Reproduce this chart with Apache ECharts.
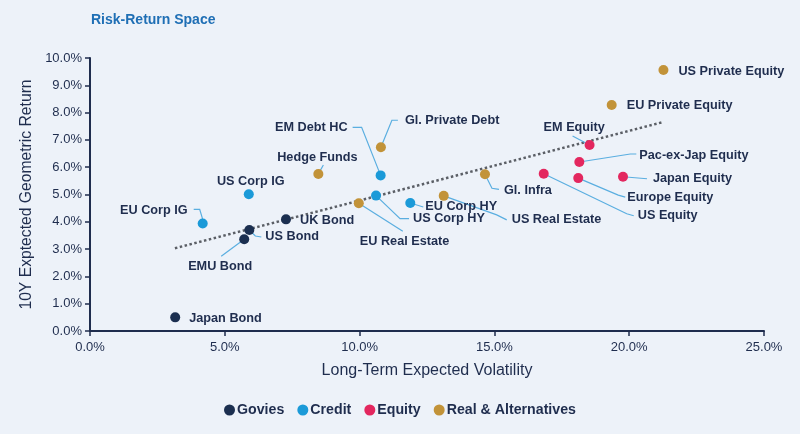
<!DOCTYPE html>
<html><head><meta charset="utf-8">
<script src="https://cdn.jsdelivr.net/npm/echarts@6/dist/echarts.min.js"></script>
<style>html,body{margin:0;padding:0;background:#edf2f9}#c{width:800px;height:434px}</style>
</head><body><div id="c"></div>
<script>
// ---- data ----
var goviesNames = ['Japan Bond','EMU Bond','US Bond','UK Bond'];
var goviesVol   = [3.16, 5.72, 5.91, 7.27];
var goviesRet   = [0.50, 3.36, 3.70, 4.09];

var creditNames = ['EU Corp IG','US Corp IG','EM Debt HC','US Corp HY','EU Corp HY'];
var creditVol   = [4.18, 5.89, 10.78, 10.61, 11.88];
var creditRet   = [3.94, 5.01, 5.70, 4.96, 4.69];

var equityNames = ['EM Equity','Pac-ex-Jap Equity','Europe Equity','US Equity','Japan Equity'];
var equityVol   = [18.53, 18.15, 18.11, 16.83, 19.77];
var equityRet   = [6.81, 6.19, 5.60, 5.76, 5.65];

var realNames = ['Gl. Private Debt','Hedge Funds','EU Real Estate','US Real Estate','Gl. Infra','EU Private Equity','US Private Equity'];
var realVol   = [10.79, 8.47, 9.97, 13.12, 14.65, 19.35, 21.27];
var realRet   = [6.73, 5.75, 4.68, 4.95, 5.74, 8.28, 9.56];

var trendVol = [3.15, 21.2];
var trendRet = [3.03, 7.64];

var seriesNames = ['Govies','Credit','Equity','Real & Alternatives'];
var xTicks = [0, 5, 10, 15, 20, 25];
var yTicks = [0,1,2,3,4,5,6,7,8,9,10];

// ---- label layout (pixel offsets from point centre: dx, dy, align) ----
var labelOffsets = {
  'Japan Bond':[14,1,'left'],
  'EMU Bond':[-24,27,'center'],
  'US Bond':[16,7,'left'],
  'UK Bond':[14,1,'left'],
  'EU Corp IG':[-15,-13,'right'],
  'US Corp IG':[2,-13,'center'],
  'EM Debt HC':[-33,-48,'right'],
  'US Corp HY':[37,23,'left'],
  'EU Corp HY':[15,4,'left'],
  'EM Equity':[-46,-18,'left'],
  'Pac-ex-Jap Equity':[60,-7,'left'],
  'Europe Equity':[49,19,'left'],
  'US Equity':[94,42,'left'],
  'Japan Equity':[30,2,'left'],
  'Gl. Private Debt':[24,-27,'left'],
  'Hedge Funds':[-1,-17,'center'],
  'EU Real Estate':[1,38,'left'],
  'US Real Estate':[68,24,'left'],
  'Gl. Infra':[19,16,'left'],
  'EU Private Equity':[15,1,'left'],
  'US Private Equity':[15,1,'left']
};
// leader line waypoints (pixel offsets from point centre)
var leaderPaths = {
  'EMU Bond':[[-23,17]],
  'US Bond':[[3,3],[6,6],[12,7]],
  'EU Corp IG':[[0,-4],[-3,-14],[-9,-14]],
  'Hedge Funds':[[5,-9]],
  'EM Debt HC':[[-19,-48],[-28,-48]],
  'Gl. Private Debt':[[11,-27],[17,-27]],
  'US Corp HY':[[24,23],[33,23]],
  'EU Corp HY':[[13,4]],
  'EU Real Estate':[[44,28]],
  'US Real Estate':[[53,19],[63,24]],
  'Gl. Infra':[[7,14],[14,15]],
  'EM Equity':[[-17,-9]],
  'Pac-ex-Jap Equity':[[51,-8],[57,-8]],
  'Japan Equity':[[24,2]],
  'Europe Equity':[[40,17],[47,19]],
  'US Equity':[[83,40],[90,42]]
};

var colors = ['#1b2f50','#1b9ad8','#e3275f','#c29339'];
var navy = '#1f2d4e';
var font = 'Liberation Sans, Arial, sans-serif';

function scatter(name, names, xs, ys, color) {
  return {
    name: name, type: 'scatter', symbolSize: 10,
    itemStyle: { color: color, opacity: 1 },
    data: names.map(function (n, i) { return { name: n, value: [xs[i], ys[i]] }; }),
    label: { show: true, formatter: '{b}', color: navy, fontWeight: 'bold', fontSize: 12.7, fontFamily: font },
    labelLayout: function (p) {
      var o = labelOffsets[p.text] || [12, 0, 'left'];
      var cx = p.rect.x + p.rect.width / 2, cy = p.rect.y + p.rect.height / 2;
      return { x: cx + o[0], y: cy + o[1], align: o[2], verticalAlign: 'middle', hideOverlap: false };
    },
    emphasis: { disabled: true },
    z: 3
  };
}

// leader lines series data (from the value arrays)
var allNames = goviesNames.concat(creditNames, equityNames, realNames);
var allVol = goviesVol.concat(creditVol, equityVol, realVol);
var allRet = goviesRet.concat(creditRet, equityRet, realRet);
var leaderData = [];
allNames.forEach(function (n, i) { if (leaderPaths[n]) leaderData.push({ name: n, value: [allVol[i], allRet[i]] }); });

var chart = echarts.init(document.getElementById('c'), null, { renderer: 'canvas' });
chart.setOption({
  backgroundColor: '#edf2f9',
  animation: false,
  title: { text: 'Risk-Return Space', left: 86, top: 8,
           textStyle: { color: '#1f6fb5', fontSize: 14, fontWeight: 'bold', fontFamily: font } },
  grid: { left: 90, right: 36, top: 58, bottom: 103 },
  xAxis: {
    type: 'value', min: xTicks[0], max: xTicks[xTicks.length - 1], interval: 5,
    name: 'Long-Term Expected Volatility', nameLocation: 'middle', nameGap: 32,
    nameTextStyle: { color: navy, fontSize: 16, fontFamily: font },
    axisLine: { lineStyle: { color: navy, width: 2 } },
    axisTick: { show: true, length: 5, lineStyle: { color: navy, width: 1.5 } },
    axisLabel: { color: navy, fontSize: 13, margin: 10, formatter: function (v) { return v.toFixed(1) + '%'; }, fontFamily: font },
    splitLine: { show: false }
  },
  yAxis: {
    type: 'value', min: yTicks[0], max: yTicks[yTicks.length - 1], interval: 1,
    name: '10Y Exptected Geometric Return', nameLocation: 'middle', nameGap: 45,
    nameTextStyle: { color: navy, fontSize: 15.7, fontFamily: font },
    axisLine: { show: true, lineStyle: { color: navy, width: 2 } },
    axisTick: { show: true, length: 5, lineStyle: { color: navy, width: 1.5 } },
    axisLabel: { color: navy, fontSize: 13, margin: 8, formatter: function (v) { return v.toFixed(1) + '%'; }, fontFamily: font },
    splitLine: { show: false }
  },
  legend: {
    data: seriesNames, bottom: 12, left: 'center', icon: 'circle', itemWidth: 11, itemHeight: 11, itemGap: 13,
    textStyle: { color: navy, fontSize: 14.2, fontWeight: 'bold', fontFamily: font, padding: [0,0,0,-3] }
  },
  series: [
    { name: 'trend', type: 'line', silent: true, symbol: 'none', z: 1,
      data: trendVol.map(function (v, i) { return [v, trendRet[i]]; }),
      lineStyle: { type: 'dotted', width: 2.5, color: '#5b5f66' } },
    { name: 'leaders', type: 'custom', silent: true, z: 2,
      data: leaderData,
      renderItem: function (params, api) {
        var n = leaderData[params.dataIndex].name;
        var c = api.coord([api.value(0), api.value(1)]);
        var pts = [c].concat(leaderPaths[n].map(function (p) { return [c[0] + p[0], c[1] + p[1]]; }));
        return { type: 'polyline', shape: { points: pts }, style: { stroke: '#5aaee0', lineWidth: 1.2, fill: null } };
      } },
    scatter(seriesNames[0], goviesNames, goviesVol, goviesRet, colors[0]),
    scatter(seriesNames[1], creditNames, creditVol, creditRet, colors[1]),
    scatter(seriesNames[2], equityNames, equityVol, equityRet, colors[2]),
    scatter(seriesNames[3], realNames, realVol, realRet, colors[3])
  ]
});
</script></body></html>
